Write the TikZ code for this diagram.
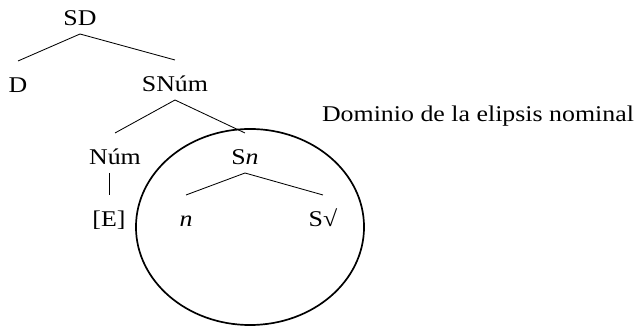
\documentclass[tikz,border=0pt]{standalone}
\usepackage{fontspec}
\setmainfont{Liberation Serif}[FakeStretch=1.15]
\usetikzlibrary{shapes.geometric}

\begin{document}
\begin{tikzpicture}[
      x=0.025cm, y=-0.025cm,
      txt/.style={anchor=base, inner sep=0pt, outer sep=0pt, font=\fontsize{16}{19}\selectfont},
      lbl/.style={txt, text height=0.8cm, text depth=0.2cm},
      edge/.style={line width=0.6pt},
      elzone/.style={draw, ellipse, line width=1.2pt, minimum width=5.7cm, minimum height=4.9cm, inner sep=0pt}
    ]
    \useasboundingbox (0,0) rectangle (640,327);
    % tree nodes, placed at their baselines
    \node[lbl] (sd)   at (80,26)   {SD};
    \node[lbl] (d)    at (18,93)   {D};
    \node[lbl] (snum) at (175,92)  {SN\'um};
    \node[lbl] (num)  at (115,165) {N\'um};
    \node[lbl] (sn)   at (245,165) {S\textit{n}};
    \node[lbl] (e)    at (109,227) {[E]};
    \node[lbl] (n)    at (186,227) {\textit{n}};
    \node[lbl] (sroot) at (323,227) {S√};

    % domain of the nominal ellipsis
    \node[elzone] (dom) at (250,227) {};
    \node[txt] (domlbl) at (478,122) {Dominio de la elipsis nominal};

    % branches
    \draw[edge] (sd.south) -- (d.north);
    \draw[edge] (sd.south) -- (snum.north);
    \draw[edge] (snum.south) -- (num.north);
    \draw[edge] (snum.south) -- (sn.north);
    \draw[edge] (e.north |- num.south) -- (e.north);
    \draw[edge] (sn.south) -- (n.north);
    \draw[edge] (sn.south) -- (sroot.north);
  \end{tikzpicture}
\end{document}
